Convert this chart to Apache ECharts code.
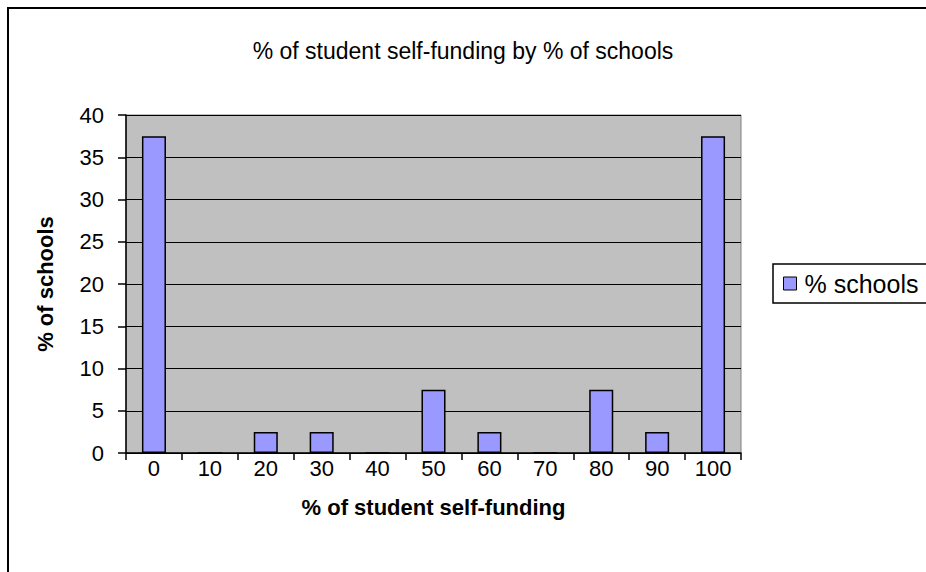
<!DOCTYPE html>
<html>
<head>
<meta charset="utf-8">
<script src="https://cdn.jsdelivr.net/npm/echarts@6/dist/echarts.min.js"></script>
<style>
  html, body { margin: 0; padding: 0; background: #fff; }
  #chart { width: 926px; height: 572px; }
</style>
</head>
<body>
<div id="chart"></div>
<script>
var categories = ['0', '10', '20', '30', '40', '50', '60', '70', '80', '90', '100'];
var schools = [37.5, 0, 2.5, 2.5, 0, 7.5, 2.5, 0, 7.5, 2.5, 37.5];

var font = 'Liberation Sans, Arial, sans-serif';
var chart = echarts.init(document.getElementById('chart'), null, { renderer: 'svg' });

chart.setOption({
  animation: false,
  backgroundColor: '#fff',
  textStyle: { fontFamily: font, color: '#000' },
  title: {
    text: '% of student self-funding by % of schools',
    left: 'center',
    top: 34,
    textStyle: { fontFamily: font, fontSize: 23, fontWeight: 'normal', color: '#000' }
  },
  graphic: [{
    type: 'rect',
    shape: { x: 8, y: 8, width: 940, height: 600 },
    style: { fill: 'none', stroke: '#000', lineWidth: 2 },
    silent: true
  }],
  legend: {
    data: ['% schools'],
    left: 773,
    top: 264,
    orient: 'vertical',
    itemWidth: 13,
    itemHeight: 13,
    itemGap: 0,
    padding: [7, 14, 7, 10],
    borderColor: '#000',
    borderWidth: 1.5,
    icon: 'rect',
    itemStyle: { borderColor: '#000', borderWidth: 1 },
    textStyle: { fontFamily: font, fontSize: 25, color: '#000', padding: [0, 0, 0, 3] }
  },
  grid: {
    left: 126,
    right: 185,
    top: 115,
    bottom: 119,
    show: true,
    backgroundColor: '#C0C0C0',
    borderColor: '#808080',
    borderWidth: 1
  },
  xAxis: {
    type: 'category',
    data: categories,
    name: '% of student self-funding',
    nameLocation: 'middle',
    nameGap: 43,
    nameTextStyle: { fontFamily: font, fontSize: 22, fontWeight: 'bold', color: '#000' },
    axisLine: { lineStyle: { color: '#000', width: 1.5 } },
    axisTick: { show: true, length: 7, lineStyle: { color: '#000', width: 1.5 } },
    axisLabel: { fontFamily: font, fontSize: 22, color: '#000', margin: 4 }
  },
  yAxis: {
    type: 'value',
    min: 0,
    max: 40,
    interval: 5,
    name: '% of schools',
    nameLocation: 'middle',
    nameGap: 70,
    nameTextStyle: { fontFamily: font, fontSize: 22, fontWeight: 'bold', color: '#000' },
    axisLine: { show: true, lineStyle: { color: '#000', width: 1.5 } },
    axisTick: { show: true, length: 8, lineStyle: { color: '#000', width: 1.5 } },
    axisLabel: { fontFamily: font, fontSize: 22, color: '#000', margin: 22 },
    splitLine: { show: true, lineStyle: { color: '#000', width: 1.2 } }
  },
  series: [{
    name: '% schools',
    type: 'bar',
    data: schools,
    barWidth: '43%',
    itemStyle: { color: '#9999FF', borderColor: '#000', borderWidth: 1.5 }
  }]
});
</script>
</body>
</html>
